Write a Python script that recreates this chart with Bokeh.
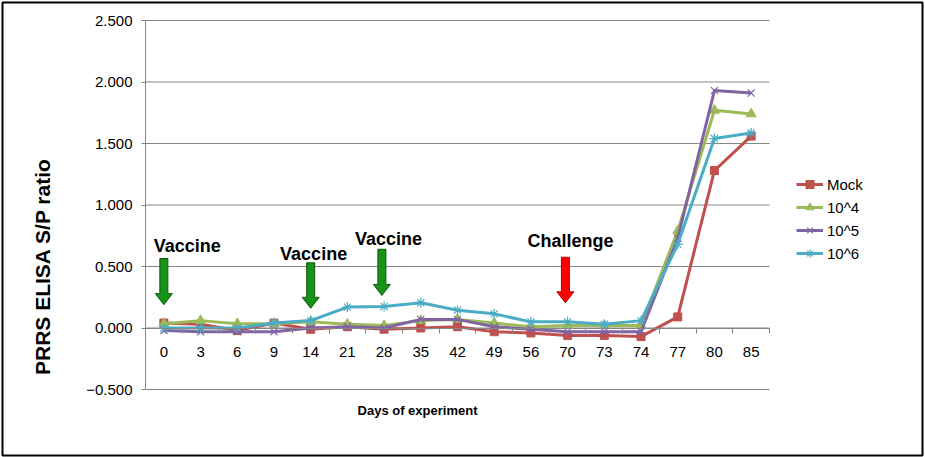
from bokeh.plotting import figure
from bokeh.models import (Range1d, FixedTicker, Legend, LegendItem, Label,
                          PolyAnnotation, BoxAnnotation)
from bokeh.embed import file_html
from bokeh.resources import INLINE

# ---------------- data ----------------
days = ["0", "3", "6", "9", "14", "21", "28", "35", "42", "49", "56",
        "70", "73", "74", "77", "80", "85"]
mock = [0.04, 0.03, -0.02, 0.04, -0.01, 0.01, -0.01, 0.00, 0.01, -0.03,
        -0.04, -0.06, -0.06, -0.07, 0.09, 1.28, 1.56]
e4 = [0.035, 0.06, 0.035, 0.035, 0.05, 0.03, 0.02, 0.06, 0.07, 0.04,
      0.01, 0.02, 0.02, 0.02, 0.79, 1.77, 1.74]
e5 = [-0.02, -0.03, -0.03, -0.03, 0.00, 0.01, 0.00, 0.07, 0.07, 0.01,
      -0.01, -0.03, -0.03, -0.03, 0.73, 1.93, 1.91]
e6 = [0.00, 0.00, 0.00, 0.04, 0.06, 0.17, 0.175, 0.205, 0.145, 0.115,
      0.05, 0.05, 0.03, 0.06, 0.68, 1.54, 1.585]
series_names = ["Mock", "10^4", "10^5", "10^6"]
y_ticks = [-0.5, 0.0, 0.5, 1.0, 1.5, 2.0, 2.5]
y_tick_labels = ["\u22120.500", "0.000", "0.500", "1.000", "1.500", "2.000", "2.500"]

# annotations: (x index, shaft top, tip) in data units
vaccine_arrows = [(0.0, 0.565, 0.19), (4.0, 0.53, 0.16), (5.94, 0.64, 0.265)]
challenge_arrow = (10.94, 0.575, 0.205)
vaccine_labels = [(0.64, 0.67), (4.08, 0.605), (6.12, 0.72)]
challenge_label = (11.08, 0.71)

x_idx = list(range(len(days)))
N = len(days)
YMIN, YMAX = y_ticks[0], y_ticks[-1]

# ---------------- geometry (plot area inside the canvas) ----------------
W, H = 925, 457
FL, FR, FT, FB = 145, 769, 20, 389


def dx(px):
    return (px - FL) / (FR - FL) * N - 0.5


def dy(py):
    return (FB - py) / (FB - FT) * (YMAX - YMIN) + YMIN


PXX = N / (FR - FL)
PXY = (YMAX - YMIN) / (FB - FT)

p = figure(width=W, height=H, output_backend="svg", toolbar_location=None,
           x_range=Range1d(dx(0), dx(W)), y_range=Range1d(dy(H), dy(0)),
           min_border=0, min_border_left=0, min_border_right=0,
           min_border_top=0, min_border_bottom=0)
p.outline_line_color = None
p.background_fill_color = "white"
p.border_fill_color = "white"

FONT = "Liberation Sans"
AX = "#868686"

# gridlines across the plot area only
p.segment(x0=-0.5, x1=N - 0.5, y0=y_ticks, y1=y_ticks, line_color=AX, line_width=1)
p.xgrid.visible = False
p.ygrid.visible = False

# y axis fixed at the left edge of the plot area
yax = p.yaxis[0]
yax.fixed_location = -0.5
yax.bounds = (YMIN, YMAX)
yax.ticker = FixedTicker(ticks=y_ticks)
yax.major_label_overrides = {t: l for t, l in zip(y_ticks, y_tick_labels)}
yax.axis_line_color = AX
yax.major_tick_line_color = AX
yax.major_tick_out = 4
yax.major_tick_in = 0
yax.minor_tick_line_color = None
yax.major_label_standoff = 9
yax.major_label_text_font = FONT
yax.major_label_text_font_size = "15px"
yax.major_label_text_color = "black"

# x axis fixed at y = 0
xax = p.xaxis[0]
xax.fixed_location = 0
xax.bounds = (-0.5, N - 0.5)
xax.ticker = FixedTicker(ticks=x_idx, minor_ticks=[i - 0.5 for i in range(N + 1)])
xax.major_label_overrides = {i: d for i, d in enumerate(days)}
xax.axis_line_color = AX
xax.major_tick_line_color = None
xax.major_tick_out = 0
xax.major_tick_in = 0
xax.minor_tick_line_color = AX
xax.minor_tick_out = 5
xax.minor_tick_in = 0
xax.major_label_standoff = 14
xax.major_label_text_font = FONT
xax.major_label_text_font_size = "15px"
xax.major_label_text_color = "black"

# ---------------- series ----------------
colors = ["#C0504D", "#9BBB59", "#8064A2", "#4BACC6"]
markers = ["square", "triangle", "x", "asterisk"]
msizes = [8, 10, 10, 10]
items = []
for name, vals, col, mk, ms in zip(series_names, [mock, e4, e5, e6], colors, markers, msizes):
    r1 = p.line(x_idx, vals, line_color=col, line_width=3)
    if mk in ("x", "asterisk"):
        r2 = p.scatter(x_idx, vals, marker=mk, size=ms, line_color=col, line_width=1.2)
    else:
        r2 = p.scatter(x_idx, vals, marker=mk, size=ms, fill_color=col, line_color=col)
    items.append(LegendItem(label=name, renderers=[r1, r2]))

legend = Legend(items=items, location=(796, 194), padding=0, margin=0,
                border_line_color=None, background_fill_alpha=0,
                glyph_width=27, glyph_height=20, label_height=20, spacing=3,
                label_standoff=4, label_text_font=FONT,
                label_text_font_size="15px", label_text_color="black")
p.add_layout(legend, "center")


# ---------------- arrows ----------------
def block_arrow(xc, ytop, ytip, fill, line):
    sh = 4 * PXX
    hh = 8.5 * PXX
    hl = 11 * PXY
    yb = ytip + hl
    xs = [xc - sh, xc + sh, xc + sh, xc + hh, xc, xc - hh, xc - sh]
    ys = [ytop, ytop, yb, yb, ytip, yb, yb]
    p.add_layout(PolyAnnotation(xs=xs, ys=ys, fill_color=fill, fill_alpha=1,
                                line_color=line, line_alpha=1, line_width=1))


for xc, yt, yp in vaccine_arrows:
    block_arrow(xc, yt, yp, "#179317", "#0a5a0a")
block_arrow(*challenge_arrow, "#FF0000", "#B00000")

for lx, ly in vaccine_labels:
    p.add_layout(Label(x=lx, y=ly, text="Vaccine", text_align="center",
                       text_baseline="middle", text_font=FONT,
                       text_font_size="18px", text_font_style="bold",
                       text_color="black"))
p.add_layout(Label(x=challenge_label[0], y=challenge_label[1], text="Challenge",
                   text_align="center", text_baseline="middle", text_font=FONT,
                   text_font_size="18px", text_font_style="bold", text_color="black"))

# axis titles
p.add_layout(Label(x=dx(42), y=dy(266), text="PRRS ELISA S/P ratio", angle=1.5708,
                   text_align="center", text_baseline="middle", text_font=FONT,
                   text_font_size="21px", text_font_style="bold", text_color="black"))
p.add_layout(Label(x=dx(417), y=dy(410), text="Days of experiment",
                   text_align="center", text_baseline="middle", text_font=FONT,
                   text_font_size="13px", text_font_style="bold", text_color="black"))

# outer border of the chart
p.add_layout(BoxAnnotation(left=dx(2), right=dx(922), top=dy(2), bottom=dy(455),
                           fill_alpha=0, line_color="black", line_alpha=1,
                           line_width=2))

open("out.html", "w").write(file_html(p, INLINE))
